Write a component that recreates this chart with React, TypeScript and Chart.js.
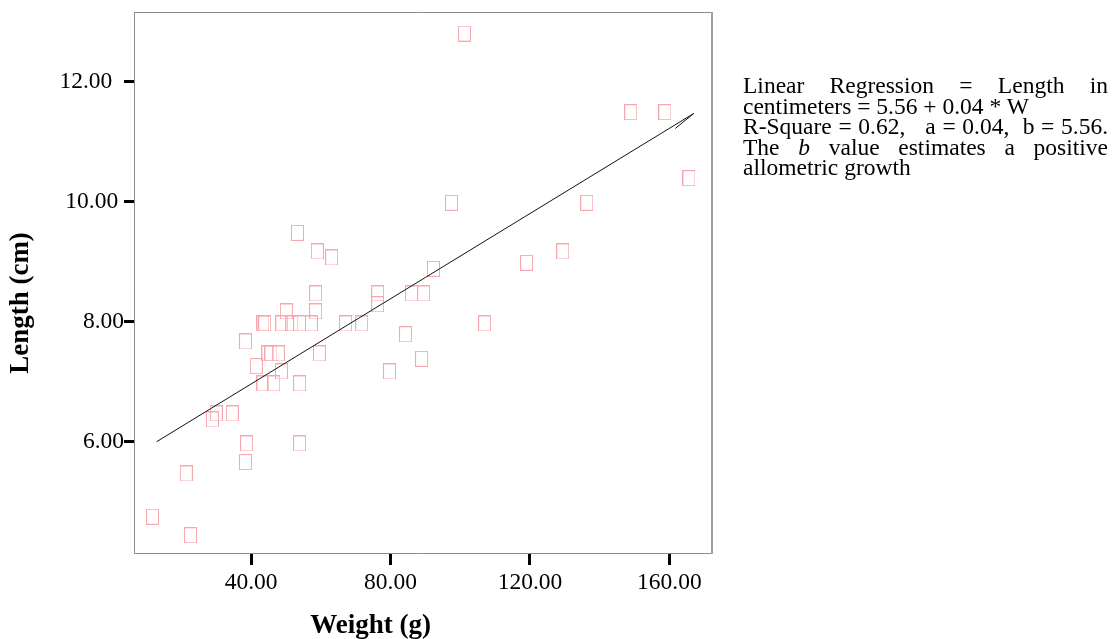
import React, { useEffect, useRef } from 'react';
import { Chart, registerables } from 'chart.js';

Chart.register(...registerables);

// Weight (g) of each specimen
const weights = [
  11.7, 22.6, 21.4, 28.9, 30.0, 34.6, 38.7, 38.4, 38.4, 41.5,
  43.4, 43.9, 44.8, 45.7, 47.8, 43.4, 46.5, 48.7, 50.1, 48.8,
  51.7, 53.9, 57.3, 58.5, 58.5, 59.6, 53.9, 53.9, 67.1, 71.7,
  76.3, 76.3, 84.3, 86.0, 89.5, 79.7, 88.9, 92.3, 53.3, 59.0,
  63.1, 101.2, 148.9, 158.7, 165.6, 97.5, 136.3, 119.0, 129.4, 107.0,
];
// Length (cm) of each specimen
const lengths = [
  4.75, 4.44, 5.47, 6.37, 6.47, 6.47, 5.97, 5.66, 7.67, 7.26,
  7.97, 7.97, 7.47, 7.47, 7.47, 6.97, 6.97, 7.17, 8.17, 7.97,
  7.97, 7.97, 7.97, 8.47, 8.17, 7.47, 6.97, 5.97, 7.97, 7.97,
  8.47, 8.29, 7.79, 8.47, 8.47, 7.17, 7.38, 8.88, 9.48, 9.17,
  9.07, 12.8, 11.49, 11.49, 10.39, 9.98, 9.98, 8.98, 9.17, 7.97,
];
// Regression line as drawn (including the small back-stroke at its end)
const regWeight = [12.9, 167.0, 161.7];
const regLength = [6.0, 11.47, 11.22];

const xTicks = [40, 80, 120, 160];
const yTicks = [6, 8, 10, 12];

const xTitle = 'Weight (g)';
const yTitle = 'Length (cm)';

const SERIF = '"Liberation Serif", "Times New Roman", serif';
const PINK = 'rgb(246, 168, 174)';

const framePlugin = {
  id: 'frameAndTitles',
  afterDraw(chart: any) {
    const { ctx, chartArea: a } = chart;
    ctx.save();
    ctx.strokeStyle = '#8c8c8c';
    ctx.lineWidth = 1;
    ctx.beginPath();
    ctx.moveTo(a.left + 0.5, a.top + 0.5);
    ctx.lineTo(a.right - 1, a.top + 0.5);
    ctx.moveTo(a.left + 0.5, a.top);
    ctx.lineTo(a.left + 0.5, a.bottom + 0.5);
    ctx.lineTo(a.right, a.bottom + 0.5);
    ctx.stroke();
    ctx.fillStyle = '#a0a0a0';
    ctx.fillRect(a.right - 2, a.top, 2, a.bottom - a.top + 1);

    ctx.fillStyle = '#000';
    ctx.font = `bold 27px ${SERIF}`;
    ctx.textAlign = 'center';
    ctx.textBaseline = 'alphabetic';
    ctx.fillText(xTitle, a.left + 236.5, a.bottom + 80);

    ctx.translate(20, a.top + 291);
    ctx.rotate(-Math.PI / 2);
    ctx.fillText(yTitle, 0, 0);
    ctx.restore();
  },
};

export default function App() {
  const ref = useRef<HTMLCanvasElement | null>(null);

  useEffect(() => {
    if (!ref.current) return;
    const marker = document.createElement('canvas');
    marker.width = 13;
    marker.height = 16;
    const mctx = marker.getContext('2d')!;
    mctx.strokeStyle = PINK;
    mctx.lineWidth = 1;
    mctx.strokeRect(0.5, 0.5, 12, 15);

    const points = weights.map((w, i) => ({ x: w, y: lengths[i] }));
    const reg = regWeight.map((w, i) => ({ x: w, y: regLength[i] }));
    const ySuffix: Record<number, string> = { 12: '  ', 10: ' ' };

    const chart = new Chart(ref.current, {
      type: 'scatter',
      data: {
        datasets: [
          {
            data: reg,
            showLine: true,
            borderColor: '#111',
            borderWidth: 1,
            pointRadius: 0,
            tension: 0,
            fill: false,
          } as any,
          {
            data: points,
            pointStyle: marker as any,
            pointRadius: 7,
            pointBackgroundColor: 'rgba(0,0,0,0)',
            pointBorderColor: PINK,
          },
        ],
      },
      options: {
        responsive: false,
        animation: false,
        events: [],
        layout: { autoPadding: false, padding: { left: 0, top: 4, right: 395, bottom: 0 } },
        plugins: {
          legend: { display: false },
          tooltip: { enabled: false },
        },
        scales: {
          x: {
            type: 'linear',
            min: 6.4,
            max: 172.5,
            afterFit: (s: any) => {
              s.height = 86;
              s.paddingLeft = 0;
              s.paddingRight = 0;
            },
            afterBuildTicks: (s: any) => {
              s.ticks = xTicks.map((v) => ({ value: v }));
            },
            grid: {
              drawOnChartArea: false,
              drawTicks: true,
              tickLength: 12,
              tickWidth: 3,
              tickColor: '#000',
            },
            border: { display: false },
            ticks: {
              padding: 4,
              color: '#000',
              autoSkip: false,
              maxRotation: 0,
              font: { family: SERIF, size: 23.5 },
              callback: (v: any) => Number(v).toFixed(2),
            },
          },
          y: {
            type: 'linear',
            min: 4.145,
            max: 13.16,
            afterFit: (s: any) => {
              s.width = 126;
              s.paddingTop = 0;
              s.paddingBottom = 0;
            },
            afterBuildTicks: (s: any) => {
              s.ticks = yTicks.map((v) => ({ value: v }));
            },
            grid: {
              drawOnChartArea: false,
              drawTicks: true,
              tickLength: 10,
              tickWidth: 3,
              tickColor: '#000',
            },
            border: { display: false },
            ticks: {
              padding: 0,
              color: '#000',
              autoSkip: false,
              font: { family: SERIF, size: 23.5 },
              callback: (v: any) => Number(v).toFixed(2) + (ySuffix[Number(v)] || ''),
            },
          },
        },
      },
      plugins: [framePlugin],
    });
    return () => chart.destroy();
  }, []);

  const justified: React.CSSProperties = {
    textAlign: 'justify',
    textAlignLast: 'justify' as any,
    whiteSpace: 'nowrap',
  };

  return (
    <div style={{ position: 'relative', width: 1100, height: 631 }}>
      <canvas ref={ref} width={1100} height={631} style={{ display: 'block' }} />
      <div
        style={{
          position: 'absolute',
          left: 735,
          top: 67,
          width: 365,
          fontFamily: SERIF,
          fontSize: '23.5px',
          lineHeight: '20.5px',
          color: '#000',
        }}
      >
        <div style={justified}>Linear Regression = Length in</div>
        <div style={{ whiteSpace: 'nowrap' }}>centimeters = 5.56 + 0.04 * W</div>
        <div style={justified}>R-Square = 0.62,{'\u00a0\u00a0'} a = 0.04,{'\u00a0'} b = 5.56.</div>
        <div style={justified}>
          The <i>b</i> value estimates a positive
        </div>
        <div>allometric growth</div>
      </div>
    </div>
  );
}
